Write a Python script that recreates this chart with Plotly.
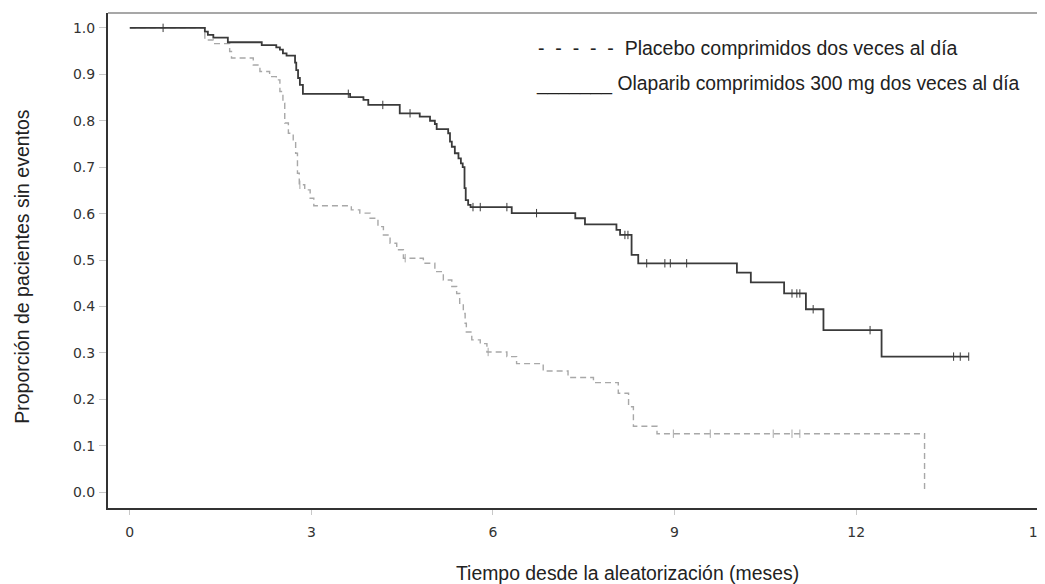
import numpy as np
import plotly.graph_objects as go

# Kaplan-Meier step points (months, proportion event-free)
olaparib_t = [0, 1.24, 1.29, 1.38, 1.62, 2.18, 2.42, 2.48, 2.53, 2.59, 2.73, 2.75, 2.78, 2.81, 2.86,
              3.64, 3.86, 3.94, 4.46, 4.79, 4.96, 5.04, 5.07, 5.26, 5.29, 5.32, 5.37, 5.43, 5.47,
              5.50, 5.53, 5.55, 5.59, 5.63, 6.31, 7.36, 7.52, 8.04, 8.10, 8.29, 8.40, 10.03, 10.26,
              10.81, 11.17, 11.46, 12.42, 13.86]
olaparib_s = [1.0, 0.992, 0.985, 0.979, 0.969, 0.963, 0.958, 0.953, 0.945, 0.940, 0.925, 0.909, 0.892,
              0.877, 0.858, 0.851, 0.845, 0.834, 0.816, 0.809, 0.800, 0.793, 0.782, 0.773, 0.755,
              0.744, 0.730, 0.719, 0.708, 0.700, 0.655, 0.629, 0.619, 0.614, 0.601, 0.590, 0.577,
              0.565, 0.554, 0.511, 0.493, 0.473, 0.452, 0.428, 0.394, 0.349, 0.292, 0.292]
olaparib_cens = [0.55, 3.61, 4.18, 4.63, 5.67, 5.79, 6.23, 6.72, 8.18, 8.23, 8.54, 8.84, 8.93, 9.20,
                 10.94, 11.02, 11.07, 11.29, 12.23, 13.61, 13.72, 13.86]

placebo_t = [0, 1.24, 1.38, 1.65, 1.68, 2.04, 2.15, 2.31, 2.42, 2.48, 2.53, 2.56, 2.62, 2.70, 2.74,
             2.77, 2.80, 2.89, 2.98, 3.04, 3.66, 3.80, 3.97, 4.10, 4.19, 4.30, 4.41, 4.52, 4.85,
             5.04, 5.18, 5.32, 5.40, 5.45, 5.51, 5.54, 5.56, 5.65, 5.79, 5.90, 6.23, 6.39, 6.83,
             7.24, 7.66, 8.07, 8.24, 8.32, 8.71, 13.13]
placebo_s = [1.0, 0.974, 0.966, 0.949, 0.935, 0.920, 0.906, 0.895, 0.888, 0.863, 0.838, 0.795, 0.773,
             0.759, 0.730, 0.687, 0.662, 0.651, 0.633, 0.617, 0.608, 0.601, 0.590, 0.572, 0.554,
             0.536, 0.522, 0.504, 0.493, 0.475, 0.457, 0.443, 0.428, 0.407, 0.385, 0.364, 0.345,
             0.328, 0.320, 0.302, 0.292, 0.277, 0.261, 0.247, 0.236, 0.213, 0.184, 0.142, 0.126, 0.0]
placebo_cens = [2.81, 4.55, 5.92, 8.98, 9.59, 10.63, 10.94, 11.07]

x_ticks = [0, 3, 6, 9, 12, 15]
y_ticks = [0.0, 0.1, 0.2, 0.3, 0.4, 0.5, 0.6, 0.7, 0.8, 0.9, 1.0]

NB = "\u00a0"
legend_placebo = (NB * 2).join(["-"] * 5) + NB * 2 + "Placebo comprimidos dos veces al día"
legend_olaparib = "_______ Olaparib comprimidos 300 mg dos veces al día"
x_title = "Tiempo desde la aleatorización (meses)"
y_title = "Proporción de pacientes sin eventos"


def step_value(times, surv, at):
    idx = np.searchsorted(np.array(times), np.array(at), side="right") - 1
    return np.array(surv)[idx]


SANS = "Liberation Sans, Arial, sans-serif"
TICKS = "DejaVu Sans, sans-serif"
OLA_COLOR = "#3a3a3a"
PLA_COLOR = "#a8a8a8"

fig = go.Figure()

fig.add_trace(go.Scatter(
    x=placebo_t, y=placebo_s, mode="lines", line_shape="hv",
    line=dict(color=PLA_COLOR, width=1.4, dash="6px,4px"),
    showlegend=False, hoverinfo="skip"
))
fig.add_trace(go.Scatter(
    x=placebo_cens, y=step_value(placebo_t, placebo_s, placebo_cens), mode="markers",
    marker=dict(symbol="line-ns", size=6, line=dict(color=PLA_COLOR, width=1)),
    showlegend=False, hoverinfo="skip"
))
fig.add_trace(go.Scatter(
    x=olaparib_t, y=olaparib_s, mode="lines", line_shape="hv",
    line=dict(color=OLA_COLOR, width=1.8),
    showlegend=False, hoverinfo="skip"
))
fig.add_trace(go.Scatter(
    x=olaparib_cens, y=step_value(olaparib_t, olaparib_s, olaparib_cens), mode="markers",
    marker=dict(symbol="line-ns", size=6, line=dict(color=OLA_COLOR, width=1)),
    showlegend=False, hoverinfo="skip"
))

fig.update_xaxes(
    range=[-0.36, 15.12], tickvals=x_ticks, ticktext=[str(v) for v in x_ticks],
    showgrid=False, zeroline=False, showline=True, linecolor="#333333", linewidth=2,
    ticks="outside", ticklen=5, tickcolor="#c8c8c8", tickwidth=1, ticklabelstandoff=5,
    ticklabeloverflow="allow",
    tickfont=dict(family=TICKS, size=14, color="#333333"),
    automargin=False
)
fig.update_yaxes(
    range=[-0.034, 1.032], tickvals=y_ticks, ticktext=["%.1f" % v for v in y_ticks],
    showgrid=False, zeroline=False, showline=True, linecolor="#333333", linewidth=2,
    ticks="outside", ticklen=7, tickcolor="#c8c8c8", tickwidth=1, ticklabelstandoff=1,
    tickfont=dict(family=TICKS, size=14, color="#333333"),
    automargin=False
)

# page body adds an 8px offset, so the figure is 8px smaller on each leading edge
fig.update_layout(
    width=1037, height=576,
    margin=dict(l=100, r=0, t=5, b=76),
    paper_bgcolor="white", plot_bgcolor="white",
    shapes=[dict(type="line", xref="paper", yref="paper", x0=0, x1=1, y0=1, y1=1,
                 line=dict(color="#8a8a8a", width=1.5))],
    annotations=[
        dict(text=legend_placebo, xref="paper", yref="paper", x=0.457, y=0.929,
             xanchor="left", yanchor="middle", showarrow=False,
             font=dict(family=SANS, size=19.5, color="#222222")),
        dict(text=legend_olaparib, xref="paper", yref="paper", x=0.455, y=0.857,
             xanchor="left", yanchor="middle", showarrow=False,
             font=dict(family=SANS, size=19.3, color="#222222")),
        dict(text=x_title, xref="paper", yref="paper", x=0.554, y=-0.131,
             xanchor="center", yanchor="middle", showarrow=False,
             font=dict(family=SANS, size=19.4, color="#222222")),
        dict(text=y_title, xref="paper", yref="paper", x=-0.092, y=0.489, textangle=-90,
             xanchor="center", yanchor="middle", showarrow=False,
             font=dict(family=SANS, size=19.5, color="#222222")),
    ],
)

fig.write_html("out.html")
